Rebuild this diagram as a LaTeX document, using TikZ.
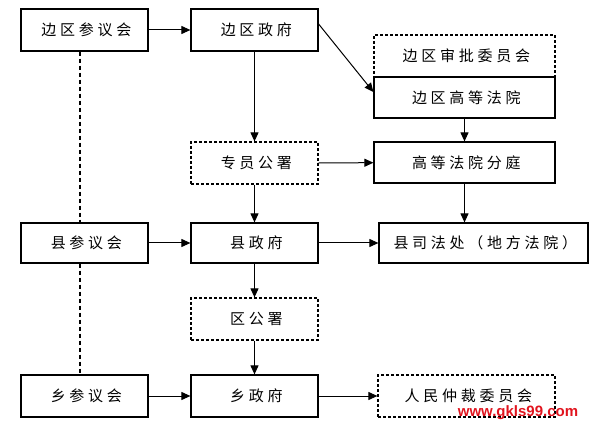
\documentclass[tikz,border=0pt]{standalone}
\usepackage{fontspec}
\usetikzlibrary{arrows.meta}
\newfontfamily\cjk[LetterSpace=25]{Noto Sans CJK SC}
\newfontfamily\wmfont{Liberation Sans}
\newcommand\lbl[1]{\kern0.25em#1}
\definecolor{wmred}{RGB}{225,20,30}
\begin{document}
\begin{tikzpicture}[x=1pt,y=-1pt,
  box/.style={draw, line width=1.2pt, minimum height=42pt, inner sep=0pt,
    font=\cjk\fontsize{15}{17}\selectfont},
  dbox/.style={box, dash pattern=on 3pt off 2pt},
  arr/.style={line width=1pt, -{Triangle[length=9pt,width=8pt]}},
  dline/.style={line width=1.2pt, dash pattern=on 4pt off 3pt}]
\useasboundingbox (0,0) rectangle (591,427);
\node[box, minimum width=127pt] (a1) at (84.5,30) {\lbl{边区参议会}};
\node[box, minimum width=127pt] (a2) at (254.5,30) {\lbl{边区政府}};
\node[dbox, minimum width=181pt] (b) at (464.5,56) {\lbl{边区审批委员会}};
\node[box, minimum width=181pt, minimum height=41pt] (c) at (464.5,97.5) {\lbl{边区高等法院}};
\node[dbox, minimum width=127pt] (d) at (254.5,163) {\lbl{专员公署}};
\node[box, minimum width=181pt, minimum height=41pt] (e) at (464.5,162.5) {\lbl{高等法院分庭}};
\node[box, minimum width=127pt, minimum height=40pt] (f) at (84.5,243) {\lbl{县参议会}};
\node[box, minimum width=127pt, minimum height=40pt] (g) at (254.5,243) {\lbl{县政府}};
\node[box, minimum width=209pt, minimum height=40pt] (h) at (483.5,243) {\lbl{县司法处（地方法院）}};
\node[dbox, minimum width=127pt] (i) at (254.5,319) {\lbl{区公署}};
\node[box, minimum width=127pt] (j) at (84.5,396) {\lbl{乡参议会}};
\node[box, minimum width=127pt] (k) at (254.5,396) {\lbl{乡政府}};
\node[dbox, minimum width=177pt] (l) at (466.5,396) {\lbl{人民仲裁委员会}};
% connectors
\draw[arr] (a1) -- (a2);
\draw[arr] ([yshift=6pt]a2.east) -- ([yshift=5.5pt]c.west);
\draw[arr] (a2) -- (d);
\draw[arr] (c) -- (e);
\draw[arr] (d) -- (e);
\draw[arr] (e.south) -- (e.south |- h.north);
\draw[arr] (d) -- (g);
\draw[arr] (f) -- (g);
\draw[arr] (g) -- (g -| h.west);
\draw[arr] (g) -- (i);
\draw[arr] (i) -- (k);
\draw[arr] (j) -- (k);
\draw[arr] (k) -- (l);
\draw[dline] ([xshift=-4.5pt]a1.south) -- ([xshift=-4.5pt]f.north);
\draw[dline] ([xshift=-4.5pt]f.south) -- ([xshift=-4.5pt]j.north);
% watermark
\node[font=\wmfont\bfseries\fontsize{15}{15}\selectfont, text=wmred, inner sep=0pt] (wm) at (518,413) {www.gkls99.com};
\end{tikzpicture}
\end{document}
